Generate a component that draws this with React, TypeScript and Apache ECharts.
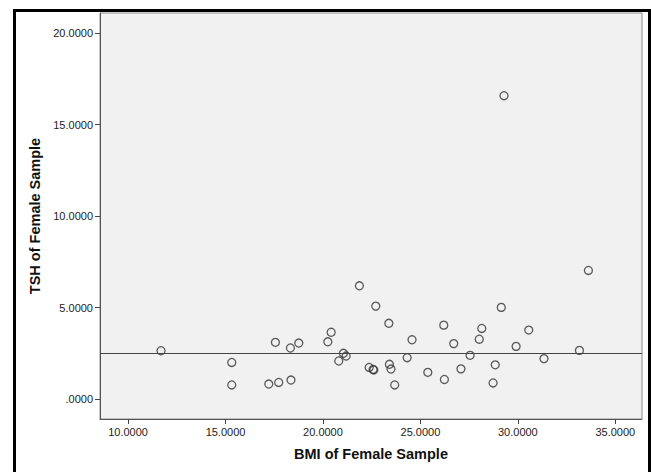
import React, { useEffect, useRef } from "react";
import * as echarts from "echarts";

const bmi: number[] = [
  11.69, 15.32, 15.32, 17.56, 17.22, 17.73, 18.33, 18.36, 18.76, 20.42,
  20.25, 21.05, 21.19, 20.81, 21.87, 22.71, 23.38, 22.37, 22.57, 22.61,
  23.41, 23.49, 23.68, 24.32, 24.57, 25.38, 26.2, 26.23, 26.71, 27.08,
  27.55, 28.02, 28.15, 28.73, 28.84, 29.15, 29.29, 29.91, 30.56, 31.34,
  33.16, 33.62,
];
const tsh: number[] = [
  2.64, 2.0, 0.77, 3.1, 0.82, 0.91, 2.79, 1.04, 3.06, 3.65,
  3.13, 2.5, 2.35, 2.08, 6.19, 5.08, 4.14, 1.73, 1.62, 1.59,
  1.9, 1.64, 0.77, 2.26, 3.24, 1.46, 4.04, 1.07, 3.03, 1.65,
  2.39, 3.27, 3.86, 0.88, 1.87, 5.01, 16.58, 2.88, 3.77, 2.21,
  2.66, 7.03,
];
const meanTsh = 2.49;
const xTicks: number[] = [10, 15, 20, 25, 30, 35];
const yTicks: number[] = [0, 5, 10, 15, 20];

const fmt = (v: number) => {
  const s = v.toFixed(4);
  return s.startsWith("0.") ? s.slice(1) : s;
};

export default function App() {
  const ref = useRef<HTMLDivElement>(null);
  useEffect(() => {
    if (!ref.current) return;
    const chart = echarts.init(ref.current, undefined, { renderer: "svg" });
    const font = "'Liberation Sans', Arial, sans-serif";
    chart.setOption({
      animation: false,
      backgroundColor: "#ffffff",
      grid: {
        left: 100,
        top: 13,
        right: 9,
        bottom: 53,
        show: true,
        backgroundColor: "#F0F1F0",
        borderColor: "#8a8a8a",
        borderWidth: 1,
      },
      xAxis: {
        type: "value",
        min: 8.56,
        max: 36.37,
        name: "BMI of Female Sample",
        nameLocation: "middle",
        nameGap: 27,
        nameTextStyle: { fontFamily: font, fontWeight: "bold", fontSize: 14.5, color: "#111" },
        splitLine: { show: false },
        axisLine: { show: true, onZero: false, lineStyle: { color: "#555", width: 1 } },
        axisTick: { show: true, length: 5, customValues: xTicks, lineStyle: { color: "#444" } },
        axisLabel: {
          customValues: xTicks,
          formatter: (v: number) => fmt(v),
          fontFamily: font,
          fontSize: 11,
          color: "#222",
          margin: 7,
        },
      },
      yAxis: {
        type: "value",
        min: -1.09,
        max: 21.1,
        name: "TSH of Female Sample",
        nameLocation: "middle",
        nameGap: 55,
        nameRotate: 90,
        nameTextStyle: { fontFamily: font, fontWeight: "bold", fontSize: 14.5, color: "#111" },
        splitLine: { show: false },
        axisLine: { show: true, onZero: false, lineStyle: { color: "#555", width: 1 } },
        axisTick: { show: true, length: 5, customValues: yTicks, lineStyle: { color: "#444" } },
        axisLabel: {
          customValues: yTicks,
          formatter: (v: number) => fmt(v),
          fontFamily: font,
          fontSize: 11,
          color: "#222",
          margin: 7,
        },
      },
      graphic: [
        {
          type: "rect",
          shape: { x: 14.5, y: 10.5, width: 635, height: 475 },
          style: { fill: "none", stroke: "#000", lineWidth: 3 },
          silent: true,
          z: 100,
        },
      ],
      series: [
        {
          type: "scatter",
          data: bmi.map((x, i) => [x, tsh[i]]),
          symbol: "circle",
          symbolSize: 8,
          itemStyle: { color: "rgba(0,0,0,0)", borderColor: "#333", borderWidth: 1.3 },
          markLine: {
            silent: true,
            symbol: "none",
            label: { show: false },
            lineStyle: { color: "#444", width: 1, type: "solid" },
            data: [{ yAxis: meanTsh }],
          },
        },
      ],
    });
    return () => chart.dispose();
  }, []);
  return (
    <div
      ref={ref}
      style={{ position: "fixed", left: 0, top: 0, width: 651, height: 472 }}
    />
  );
}
